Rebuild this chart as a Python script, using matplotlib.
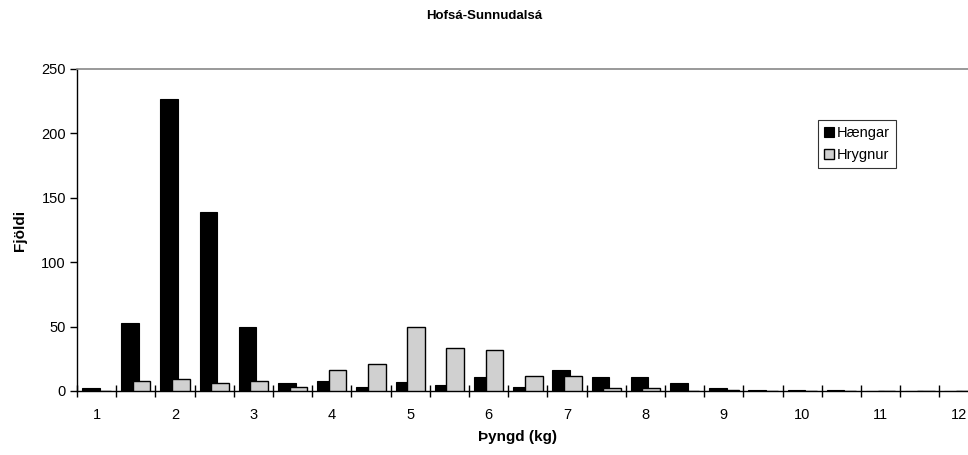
import numpy as np
import matplotlib
matplotlib.use('Agg')
import matplotlib.pyplot as plt

plt.rcParams['font.family'] = ['Liberation Sans', 'DejaVu Sans']

# þyngdarflokkar (kg), hálft kg á milli
weights = ['1', '1.5', '2', '2.5', '3', '3.5', '4', '4.5', '5', '5.5', '6', '6.5',
           '7', '7.5', '8', '8.5', '9', '9.5', '10', '10.5', '11', '11.5', '12']
haengar = [2, 53, 227, 139, 50, 6, 8, 3, 7, 5, 11, 3,
           16, 11, 11, 6, 2, 1, 1, 1, 0, 0, 0]
hrygnur = [0, 8, 9, 6, 8, 3, 16, 21, 50, 33, 32, 12,
           12, 2, 2, 0, 1, 0, 0, 0, 0, 0, 0]
tick_labels = ['1', '2', '3', '4', '5', '6', '7', '8', '9', '10', '11', '12']

fig = plt.figure(figsize=(9.68, 4.55), dpi=100)
ax = fig.add_axes([77 / 968, 1 - 391 / 455, 901.7 / 968, 322 / 455])

x = np.arange(len(weights))
w = 0.45
off = 0.149
ax.bar(x - off, haengar, w, color='black', edgecolor='black', linewidth=0.8,
       label='Hængar', zorder=2)
ax.bar(x + off, hrygnur, w, color='#d0d0d0', edgecolor='black', linewidth=1.0,
       label='Hrygnur', zorder=3)

ax.set_xlim(-0.5, len(weights) - 0.5)
ax.set_ylim(0, 250)
ax.set_yticks([0, 50, 100, 150, 200, 250])

# merki á milli flokka, tölur á heilum kílóum
ax.set_xticks(np.arange(len(weights) + 1) - 0.5)
ax.set_xticklabels([])
ax.tick_params(axis='x', which='major', direction='inout', length=9, width=1)
ax.set_xticks(x[::2], minor=True)
ax.set_xticklabels(tick_labels, minor=True)
ax.tick_params(axis='x', which='minor', length=0, pad=12, labelsize=10.5)
ax.tick_params(axis='y', direction='out', length=5, width=1, labelsize=10.5, pad=3)

ax.spines['right'].set_visible(False)
ax.spines['top'].set_color('#888888')
ax.spines['top'].set_linewidth(1.2)
ax.spines['left'].set_linewidth(1)
ax.spines['bottom'].set_linewidth(1)

fig.text(0.5, 1 - 16 / 455, 'Hofsá-Sunnudalsá', ha='center', va='center',
         fontsize=9.5, fontweight='bold')
fig.text(518 / 968, 1 - 437 / 455, 'Þyngd (kg)', ha='center', va='center',
         fontsize=11, fontweight='bold')
fig.text(20 / 968, 1 - 230 / 455, 'Fjöldi', ha='center', va='center',
         rotation=90, fontsize=11, fontweight='bold')

leg = fig.legend(loc='upper left', bbox_to_anchor=(818 / 968, 1 - 120 / 455),
                 fontsize=10.5, frameon=True, fancybox=False, edgecolor='black',
                 handlelength=0.7, handleheight=0.7, handletextpad=0.2,
                 borderpad=0.4, labelspacing=0.55, borderaxespad=0)
leg.get_frame().set_linewidth(0.8)

fig.savefig('out.png', dpi=100)
